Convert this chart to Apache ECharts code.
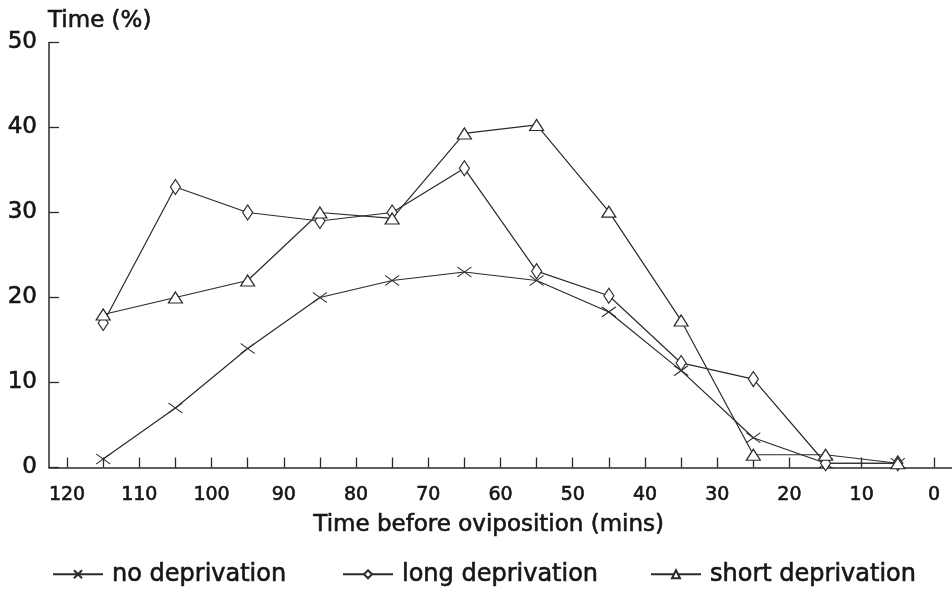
<!DOCTYPE html>
<html>
<head>
<meta charset="utf-8">
<script src="https://cdn.jsdelivr.net/npm/echarts@6/dist/echarts.min.js"></script>
<style>
  html, body { margin: 0; padding: 0; background: #fff; }
  #chart { width: 952px; height: 613px; }
</style>
</head>
<body>
<div id="chart"></div>
<script>
// Minutes before oviposition (bin midpoints)
const minutes = [115, 105, 95, 85, 75, 65, 55, 45, 35, 25, 15, 5];

// Percentage of time for each treatment
const noDeprivation    = [1, 7, 14, 20, 22, 23, 22, 18.3, 11.4, 3.5, 0.5, 0.5];
const longDeprivation  = [17, 33, 30, 29, 30, 35.2, 23.1, 20.2, 12.3, 10.4, 0.5, 0.5];
const shortDeprivation = [18, 20, 22, 30, 29.3, 39.3, 40.3, 30.1, 17.3, 1.5, 1.5, 0.5];

const seriesNames = ['no deprivation', 'long deprivation', 'short deprivation'];

// Axis ticks and labels
const xTicks  = [120, 115, 110, 105, 100, 95, 90, 85, 80, 75, 70, 65, 60, 55, 50, 45, 40, 35, 30, 25, 20, 15, 10, 5, 0];
const xLabels = [120, 110, 100, 90, 80, 70, 60, 50, 40, 30, 20, 10, 0];

const ink = '#2a2a2a';
const textInk = '#151515';
const font = 'DejaVu Sans, Verdana, sans-serif';

// slight outline to give the type a heavier, typewritten weight
const heavy = { textBorderColor: textInk, textBorderWidth: 0.6 };

const crossPath = 'path://M0,0L14,10M14,0L0,10';

function pairs(vals) {
  return minutes.map((m, i) => [m, vals[i]]);
}

function makeSeries(name, vals, symbol, size) {
  return {
    name: name,
    type: 'line',
    data: pairs(vals),
    symbol: symbol,
    symbolSize: size,
    showAllSymbol: true,
    lineStyle: { color: ink, width: 1.2 },
    itemStyle: { color: '#fff', borderColor: ink, borderWidth: 1.2 },
    emphasis: { disabled: true },
    z: 3
  };
}

function legendAt(name, left) {
  return {
    data: [name],
    left: left,
    top: 562,
    padding: 0,
    itemWidth: 50,
    itemHeight: 10,
    itemGap: 0,
    textStyle: Object.assign({ fontFamily: font, fontSize: 24, color: textInk, padding: [0, 0, 0, 4] }, heavy),
    selectedMode: false
  };
}

const chart = echarts.init(document.getElementById('chart'), null, { renderer: 'canvas' });

chart.setOption({
  animation: false,
  backgroundColor: '#fff',
  grid: { left: 49, right: 0, top: 42.5, bottom: 145.5, containLabel: false },
  title: {
    text: 'Time (%)',
    left: 48,
    top: 10,
    padding: 0,
    textStyle: Object.assign({ fontFamily: font, fontSize: 23, fontWeight: 'normal', color: textInk }, heavy)
  },
  legend: [
    legendAt(seriesNames[0], 52),
    legendAt(seriesNames[1], 342),
    legendAt(seriesNames[2], 650)
  ],
  xAxis: {
    type: 'value',
    inverse: true,
    min: -2.5,
    max: 122.5,
    axisLine: { show: true, onZero: false, lineStyle: { color: ink, width: 1.5 } },
    axisTick: { show: true, inside: true, length: 10, customValues: xTicks, lineStyle: { color: ink, width: 1.3 } },
    axisLabel: Object.assign({
      customValues: xLabels,
      margin: 18,
      fontFamily: font, fontSize: 19, color: textInk
    }, heavy),
    splitLine: { show: false }
  },
  yAxis: {
    type: 'value',
    position: 'left',
    min: 0,
    max: 50,
    interval: 10,
    axisLine: { show: true, onZero: false, lineStyle: { color: ink, width: 1.5 } },
    axisTick: { show: true, inside: true, length: 10, lineStyle: { color: ink, width: 1.3 } },
    axisLabel: Object.assign({ margin: 12, fontFamily: font, fontSize: 23, color: textInk }, heavy),
    splitLine: { show: false }
  },
  graphic: [{
    type: 'text',
    left: 313,
    top: 513,
    style: {
      text: 'Time before oviposition (mins)',
      fontFamily: font, fontSize: 23, fill: textInk,
      stroke: textInk, lineWidth: 0.6
    }
  }],
  series: [
    makeSeries(seriesNames[0], noDeprivation, crossPath, [14, 10]),
    makeSeries(seriesNames[1], longDeprivation, 'diamond', [10, 15]),
    makeSeries(seriesNames[2], shortDeprivation, 'triangle', [14, 11])
  ]
});
</script>
</body>
</html>
